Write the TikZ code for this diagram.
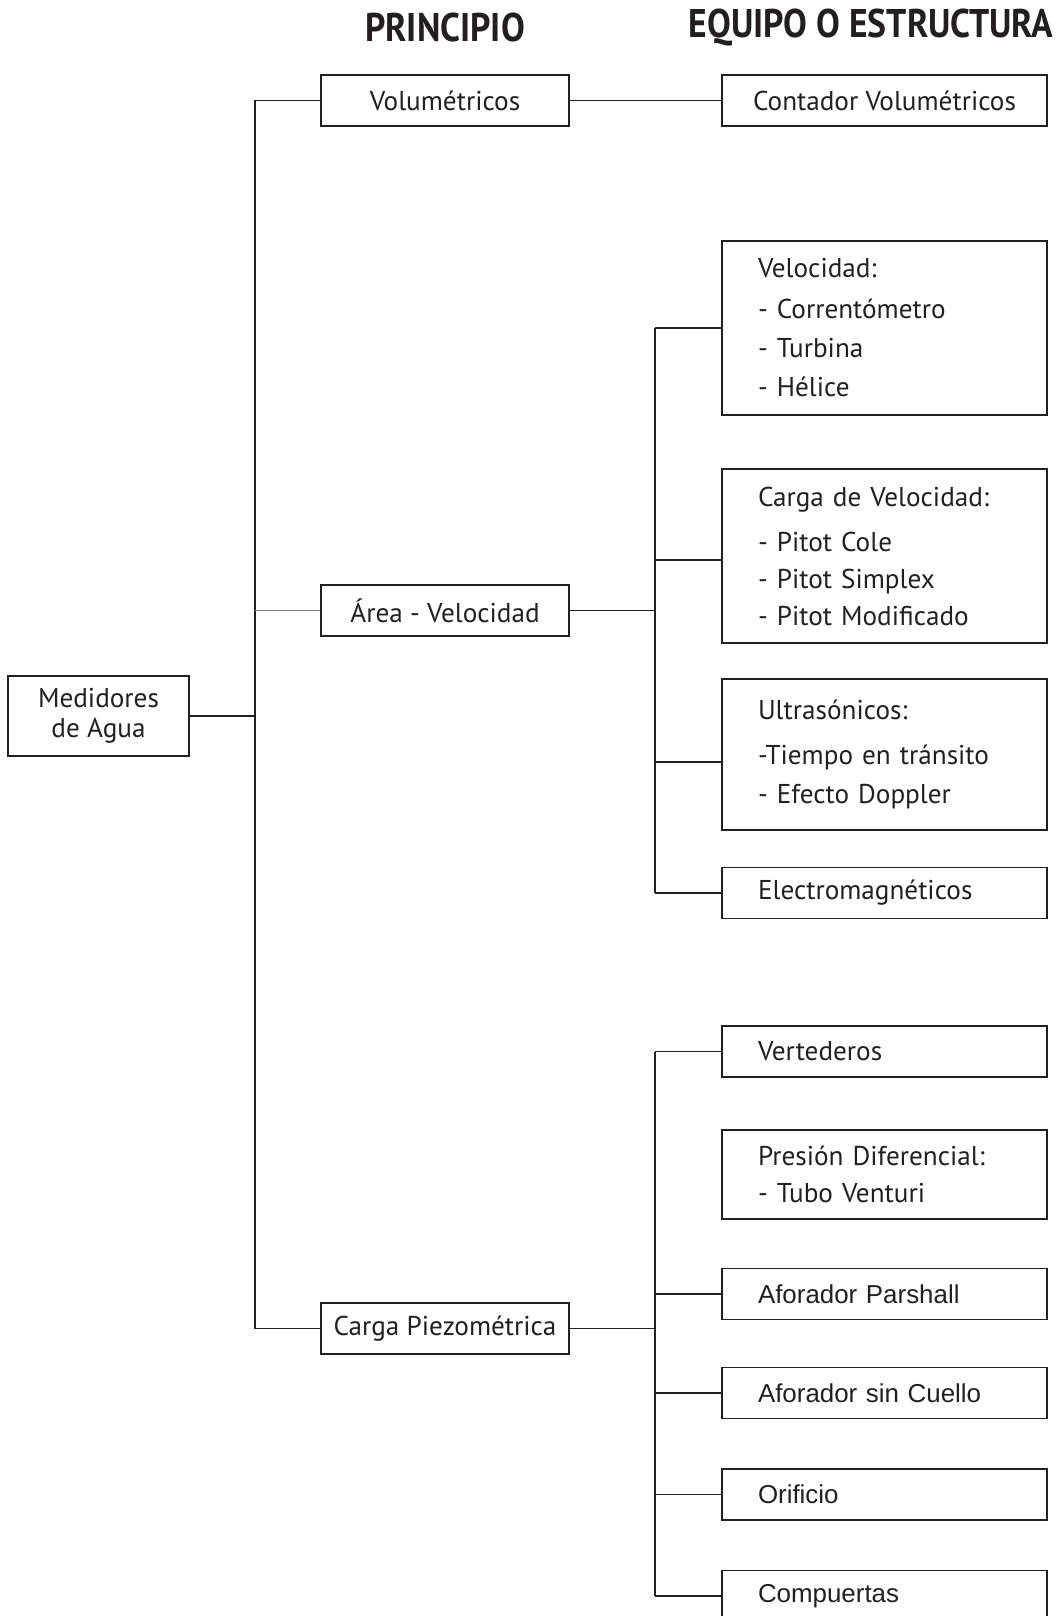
\documentclass[tikz,border=0pt]{standalone}
\usepackage{fontspec}
\setmainfont{PT Sans}
\newfontfamily\arialfont{Liberation Sans}
\newfontfamily\headfont{PT Sans}[FakeStretch=0.89]
\definecolor{ink}{RGB}{35,31,32}
\tikzset{
  box/.style={draw=ink, line width=0.75pt, text=ink, inner sep=0pt,
    font=\fontsize{13.6}{19.5}\selectfont, minimum height=25.5pt},
  princ/.style={box, minimum width=124pt, align=center},
  equipo/.style={box, minimum width=162.5pt, text width=126.5pt, inner xsep=18pt, align=left},
  arial/.style={font=\arialfont\fontsize{12.95}{15}\selectfont},
  link/.style={draw=ink, line width=0.75pt},
  header/.style={font=\headfont\bfseries\fontsize{20}{24}\selectfont, text=ink},
}
\begin{document}
\begin{tikzpicture}[x=0.5pt, y=-0.5pt]
  \useasboundingbox (0,0) rectangle (1063,1616);
  \clip (0,0) rectangle (1063,1616);
  % --- Headers ---
  \node[header] (hprin) at (445,28) {PRINCIPIO};
  \node[header] (hequi) at (871,28) {EQUIPO O ESTRUCTURA};
  % --- Root ---
  \node[box, minimum width=90.5pt, minimum height=40pt, align=center,
    font=\fontsize{13.6}{15}\selectfont] (med) at (98.5,716) {Medidores\\de Agua};
  % --- Principles ---
  \node[princ] (vol) at (445,100.5) {Volumétricos};
  \node[princ] (area) at (445,610.5) {Área - Velocidad};
  \node[princ] (piezo) at (445,1328.5) {Carga Piezométrica};
  % --- Equipment ---
  \node[box, minimum width=162.5pt] (cont) at (884.5,100.5) {Contador Volumétricos};
  \node[equipo, minimum height=87pt] (velo) at (884.5,328)
    {Velocidad:\\[1pt]- Correntómetro\\- Turbina\\- Hélice};
  \node[equipo, minimum height=87pt, font=\fontsize{13.6}{18.5}\selectfont] (cargav) at (884.5,556)
    {Carga de Velocidad:\\[4pt]- Pitot Cole\\- Pitot Simplex\\- Pitot Modificado};
  \node[equipo, minimum height=75.5pt] (ultra) at (884.5,754.5)
    {Ultrasónicos:\\[3pt]-Tiempo en tránsito\\- Efecto Doppler};
  \node[equipo] (electro) at (884.5,893) {Electromagnéticos};
  \node[equipo] (vert) at (884.5,1051.5) {Vertederos};
  \node[equipo, minimum height=44.5pt, font=\fontsize{13.6}{18.5}\selectfont] (pres) at (884.5,1174.5)
    {Presión Diferencial:\\- Tubo Venturi};
  \node[equipo, arial] (parsh) at (884.5,1294) {Aforador Parshall};
  \node[equipo, arial] (cuello) at (884.5,1393) {Aforador sin Cuello};
  \node[equipo, arial] (orif) at (884.5,1494.5) {Orificio};
  \node[equipo, arial] (comp) at (884.5,1596) {Compuertas};
  % --- Main trunk ---
  \coordinate (trunk) at (255,0);
  \draw[link] (vol.west) -- (vol.west -| trunk) -- (piezo.west -| trunk) -- (piezo.west);
  \draw[link] (med.east) -- (med.east -| trunk);
  \draw[link, draw=gray] (area.west) -- (area.west -| trunk);
  \draw[link] (vol.east) -- (cont.west);
  % --- Area - Velocidad branch ---
  \coordinate (atrunk) at (655,0);
  \draw[link] (area.east) -- (area.east -| atrunk);
  \draw[link] (velo.west -| atrunk) -- (electro.west -| atrunk);
  \foreach \n/\s in {velo/0, cargav/-2, ultra/-3.75, electro/0}
    \draw[link] ([yshift=\s pt]\n.west) -- ([yshift=\s pt]\n.west -| atrunk);
  % --- Carga Piezometrica branch ---
  \coordinate (ptrunk) at (655,0);
  \draw[link] (piezo.east) -- (piezo.east -| ptrunk);
  \draw[link] (vert.west -| ptrunk) -- (comp.west -| ptrunk);
  \foreach \n in {vert, parsh, cuello, orif, comp}
    \draw[link] (\n.west) -- (\n.west -| ptrunk);
\end{tikzpicture}
\end{document}
